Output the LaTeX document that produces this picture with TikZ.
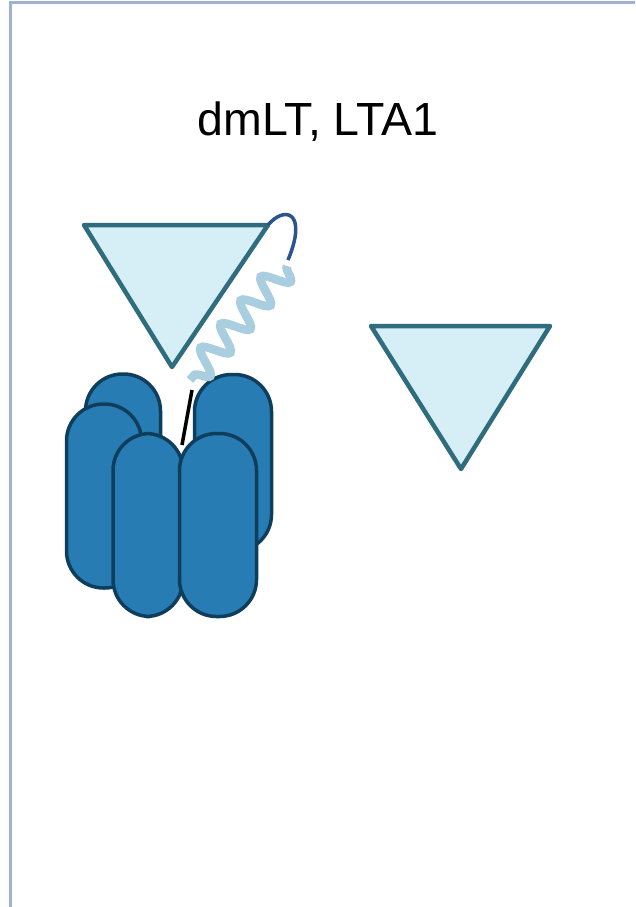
\documentclass[tikz,border=0pt]{standalone}
\usepackage{fontspec}
\setmainfont{Liberation Sans}
\usetikzlibrary{decorations.pathmorphing}

\definecolor{framecol}{RGB}{160,178,212}
\definecolor{toxinedge}{RGB}{46,108,126}
\definecolor{toxinfill}{RGB}{214,238,245}
\definecolor{barrelfill}{RGB}{40,124,180}
\definecolor{barreledge}{RGB}{14,62,92}
\definecolor{coilcol}{RGB}{168,206,224}
\definecolor{loopcol}{RGB}{44,84,140}

\begin{document}
\begin{tikzpicture}[x=1pt,y=-1pt]
  \tikzstyle{toxin}=[draw=toxinedge,fill=toxinfill,line width=4.5pt,line join=round]
  \tikzstyle{barrel}=[draw=barreledge,fill=barrelfill,line width=3.5pt,rounded corners=37pt,inner sep=0pt]
  \tikzstyle{coil}=[draw=coilcol,line width=8.5pt,decorate,decoration={snake,segment length=31pt,amplitude=13pt}]
  \useasboundingbox (0,0) rectangle (635,907);
  \fill[white] (0,0) rectangle (635,907);
  % frame
  \draw[framecol,line width=3pt] (10,907) -- (10,3) -- (635,3);
  \node[font=\fontsize{46.5}{52}\selectfont,anchor=base] (title) at (318,135) {dmLT, LTA1};
  % A subunits
  \draw[toxin] (84,225) coordinate (a1) -- (268,225) coordinate (a2) -- (172,367) coordinate (a3) -- cycle;
  \draw[toxin] (371,326) coordinate (b1) -- (550,326) coordinate (b2) -- (461,469) coordinate (b3) -- cycle;
  \coordinate (looptip) at (288,260);
  \draw[loopcol,line width=3.5pt] (a2) .. controls (285,205) and (308,212) .. (looptip);
  % B pentamer, back row
  \node[barrel,minimum width=75pt,minimum height=184pt] (bk1) at (123,466) {};
  \node[barrel,minimum width=77pt,minimum height=177pt] (bk2) at (233,463) {};
  \coordinate (tail) at (192,390);
  \draw[black,line width=3.5pt] (tail) -- (182,445);
  % B pentamer, front row
  \node[barrel,minimum width=75pt,minimum height=184pt] (fr1) at (104,496) {};
  \node[barrel,minimum width=70pt,minimum height=183pt] (fr2) at (148,525) {};
  \node[barrel,minimum width=77pt,minimum height=183pt] (fr3) at (218,525) {};
  % helix
  \draw[coil] (287,266) -- (190,380);
\end{tikzpicture}
\end{document}
